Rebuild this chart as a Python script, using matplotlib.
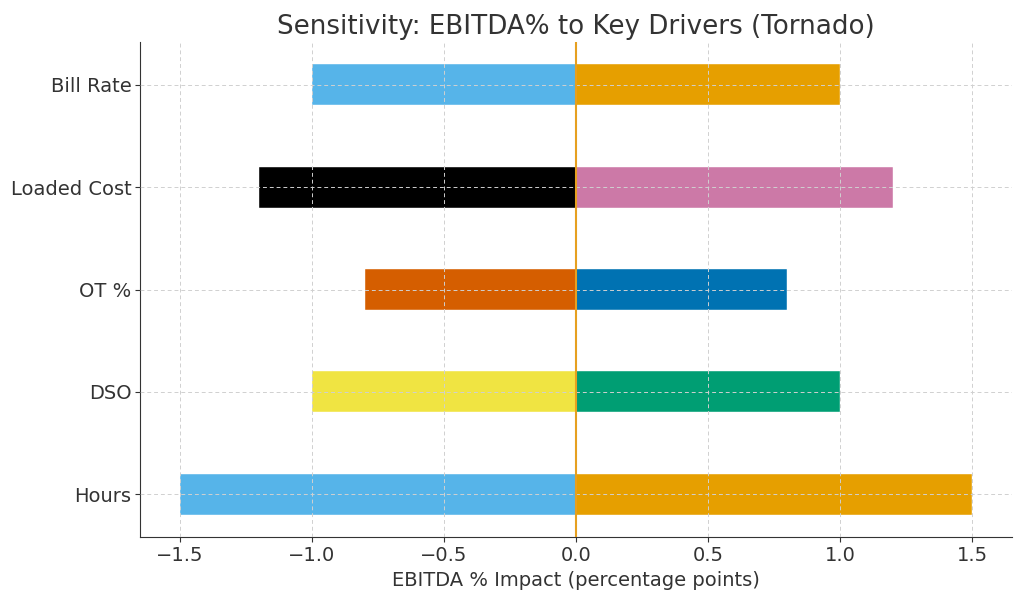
import matplotlib
matplotlib.use("Agg")
import matplotlib.pyplot as plt

drivers = ["Hours", "DSO", "OT %", "Loaded Cost", "Bill Rate"]
low_vals = [-1.5, -1.0, -0.8, -1.2, -1.0]
high_vals = [1.5, 1.0, 0.8, 1.2, 1.0]
low_colors = ["#56B4E9", "#F0E442", "#D55E00", "#000000", "#56B4E9"]
high_colors = ["#E69F00", "#009E73", "#0072B2", "#CC79A7", "#E69F00"]

plt.rcParams['font.family'] = ['DejaVu Sans']
fig, ax = plt.subplots(figsize=(10.24, 6), dpi=100)
fig.subplots_adjust(left=0.137, right=0.988, top=0.93, bottom=0.105)

ypos = list(range(len(drivers)))
ax.barh(ypos, low_vals, height=0.4, color=low_colors, edgecolor="white", linewidth=0.3)
ax.barh(ypos, high_vals, height=0.4, color=high_colors, edgecolor="white", linewidth=0.3)
ax.axvline(0, color="#E6A020", linewidth=1.5, zorder=3)

ax.set_yticks(ypos)
ax.set_yticklabels(drivers)
ax.set_axisbelow(False)
ax.grid(True, linestyle=(0, (4, 3)), color="#d0d0d0", linewidth=0.7)
for s in ["top", "right"]:
    ax.spines[s].set_visible(False)
ax.tick_params(colors="#333333", labelsize=14, length=3.5, pad=3)
for s in ["left", "bottom"]:
    ax.spines[s].set_color("#333333")
ax.set_xlabel("EBITDA % Impact (percentage points)", fontsize=14, color="#333333")
ax.set_title("Sensitivity: EBITDA% to Key Drivers (Tornado)", fontsize=18.8, color="#333333")

fig.savefig("out.png", dpi=100)
